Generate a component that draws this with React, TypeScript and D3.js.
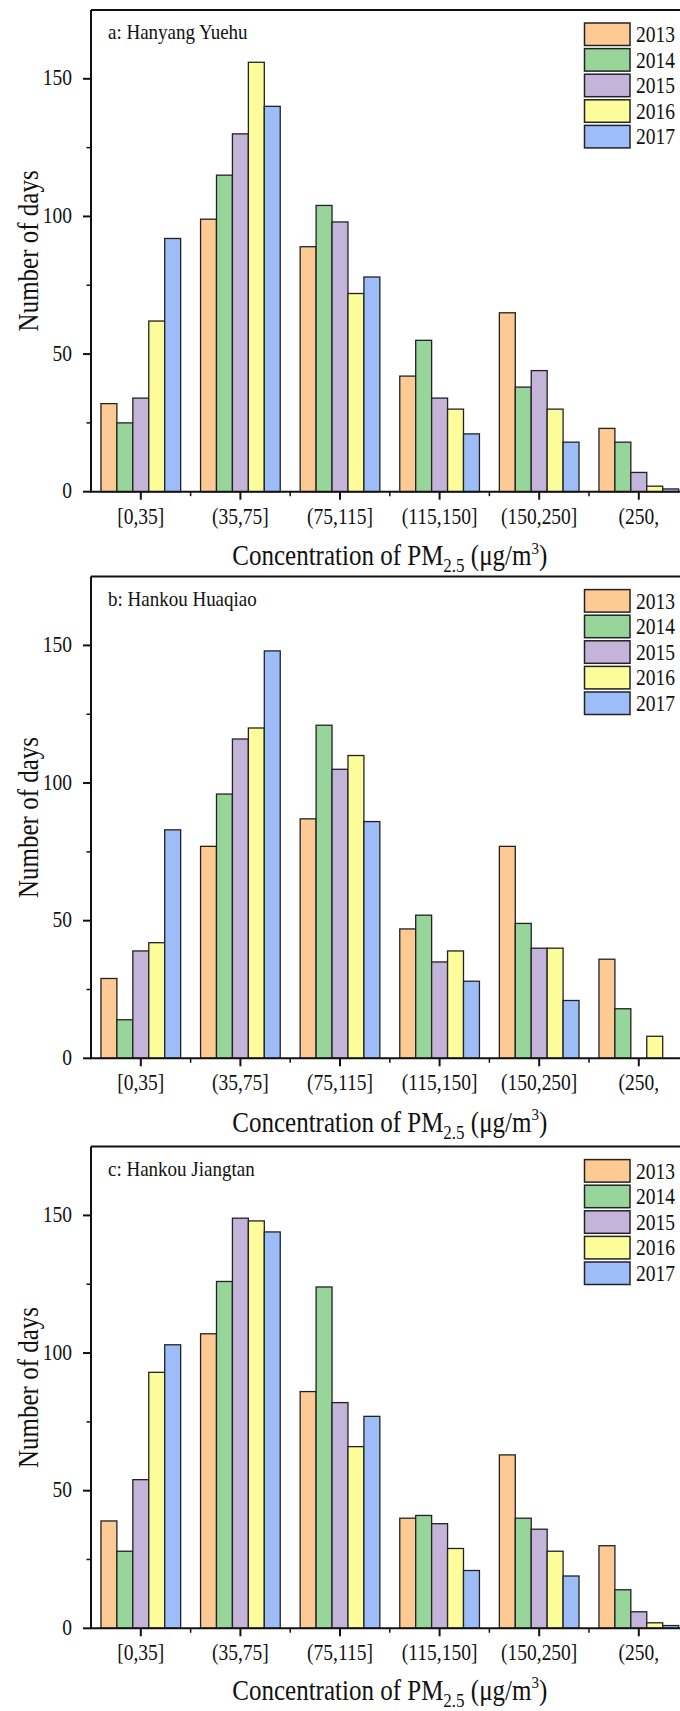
import React from "react";
import * as d3 from "d3";

const categories = ["[0,35]", "(35,75]", "(75,115]", "(115,150]", "(150,250]", "(250,"];
const years = ["2013", "2014", "2015", "2016", "2017"];
const yearColors = ["#FDCA94", "#98D59B", "#C5B4DA", "#FDFC9B", "#9CBDF8"];
const yTicks = [0, 50, 100, 150];
const yMinorTicks = [25, 75, 125];

const hanyangYuehu = [
  [32, 99, 89, 42, 65, 23],
  [25, 115, 104, 55, 38, 18],
  [34, 130, 98, 34, 44, 7],
  [62, 156, 72, 30, 30, 2],
  [92, 140, 78, 21, 18, 1],
];
const hankouHuaqiao = [
  [29, 77, 87, 47, 77, 36],
  [14, 96, 121, 52, 49, 18],
  [39, 116, 105, 35, 40, 0],
  [42, 120, 110, 39, 40, 8],
  [83, 148, 86, 28, 21, 0],
];
const hankouJiangtan = [
  [39, 107, 86, 40, 63, 30],
  [28, 126, 124, 41, 40, 14],
  [54, 149, 82, 38, 36, 6],
  [93, 148, 66, 29, 28, 2],
  [103, 144, 77, 21, 19, 1],
];

const panelTitles = ["a: Hanyang Yuehu", "b: Hankou Huaqiao", "c: Hankou Jiangtan"];
const panelData = [hanyangYuehu, hankouHuaqiao, hankouJiangtan];
const panelBaselines = [491.7, 1058.3, 1628.3];
const xTitleOffsets = [73.4, 73.4, 71.5];

const W = 680;
const H = 1711;
const left = 91;
const right = 688.6;
const plotH = 481.7;
const FONT = "'Liberation Serif', 'Times New Roman', serif";
const SY = 1.15;

function T({ x, y, size, anchor = "start", rotate = 0, children }: any) {
  const tr = `translate(${x},${y})${rotate ? ` rotate(${rotate})` : ""} scale(1,${SY})`;
  return (
    <text transform={tr} fontFamily={FONT} fontSize={size} textAnchor={anchor} fill="#111">
      {children}
    </text>
  );
}

function Panel({ idx }: { idx: number }) {
  const base = panelBaselines[idx];
  const top = base - plotH;
  const data = panelData[idx];
  const x = d3.scaleBand<string>().domain(categories).range([left, right]).paddingInner(0).paddingOuter(0);
  const bw = x.bandwidth();
  const xi = d3.scaleBand<string>().domain(years).range([0.1 * bw, 0.9 * bw]).padding(0);
  const y = d3.scaleLinear().domain([0, 175]).range([base, top]);
  const boundaries = categories.slice(1).map((c) => x(c) as number);

  return (
    <g>
      {years.map((yr, si) =>
        categories.map((c, ci) => {
          const v = data[si][ci];
          if (!v) return null;
          return (
            <rect
              key={yr + c}
              x={(x(c) as number) + (xi(yr) as number)}
              y={y(v)}
              width={xi.bandwidth()}
              height={base - y(v)}
              fill={yearColors[si]}
              stroke="#222"
              strokeWidth={1.3}
            />
          );
        })
      )}
      <line x1={left} x2={W + 20} y1={top} y2={top} stroke="#111" strokeWidth={2} />
      <line x1={left} x2={left} y1={top} y2={base} stroke="#111" strokeWidth={2} />
      <line x1={left - 1} x2={W + 20} y1={base} y2={base} stroke="#111" strokeWidth={2} />
      {yTicks.map((t) => (
        <g key={"yt" + t}>
          <line x1={left - 8} x2={left} y1={y(t)} y2={y(t)} stroke="#111" strokeWidth={2} />
          <T x={72} y={y(t) + 6.5} size={19.5} anchor="end">
            {t}
          </T>
        </g>
      ))}
      {yMinorTicks.map((t) => (
        <line key={"ym" + t} x1={left - 4.5} x2={left} y1={y(t)} y2={y(t)} stroke="#111" strokeWidth={1.5} />
      ))}
      {categories.map((c) => {
        const cx = (x(c) as number) + bw / 2;
        return (
          <g key={"xt" + c}>
            <line x1={cx} x2={cx} y1={base} y2={base + 8} stroke="#111" strokeWidth={2} />
            <T x={cx} y={base + 32} size={19.5} anchor="middle">
              {c}
            </T>
          </g>
        );
      })}
      {boundaries.map((bx, i) => (
        <line key={"xm" + i} x1={bx} x2={bx} y1={base} y2={base + 4.5} stroke="#111" strokeWidth={1.5} />
      ))}
      <T x={(left + right) / 2} y={base + xTitleOffsets[idx]} size={25} anchor="middle">
        Concentration of PM
        <tspan fontSize={17} dy={6}>2.5</tspan>
        <tspan dy={-6}> (μg/m</tspan>
        <tspan fontSize={15} dy={-10}>3</tspan>
        <tspan dy={10}>)</tspan>
      </T>
      <T x={38} y={(top + base) / 2} size={25} anchor="middle" rotate={-90}>
        Number of days
      </T>
      <T x={108} y={top + 29} size={19} anchor="start">
        {panelTitles[idx]}
      </T>
      {years.map((yr, si) => {
        const ry = top + 13 + si * 25.6;
        return (
          <g key={"lg" + yr}>
            <rect x={584.5} y={ry} width={45.5} height={22.5} fill={yearColors[si]} stroke="#222" strokeWidth={1.5} />
            <T x={636} y={ry + 19} size={19.5} anchor="start">
              {yr}
            </T>
          </g>
        );
      })}
    </g>
  );
}

export default function App() {
  return (
    <div style={{ position: "absolute", left: 0, top: 0, width: W, height: H, background: "#fff" }}>
      <svg width={W} height={H} viewBox={`0 0 ${W} ${H}`} style={{ display: "block" }}>
        <rect x={0} y={0} width={W} height={H} fill="#fff" />
        {[0, 1, 2].map((i) => (
          <Panel key={i} idx={i} />
        ))}
      </svg>
    </div>
  );
}
